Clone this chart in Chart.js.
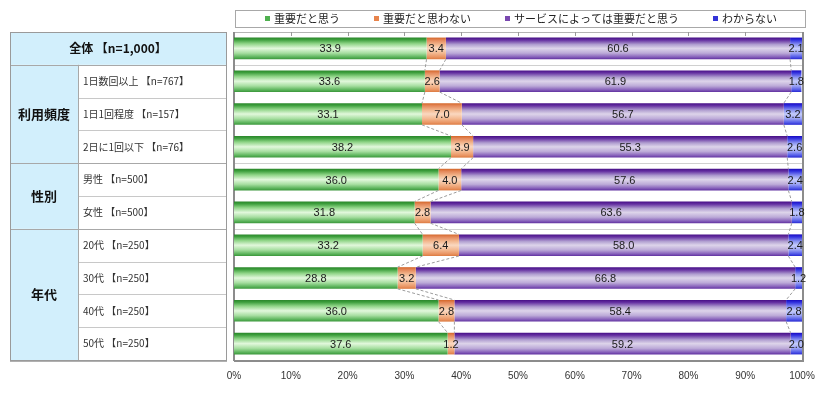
<!DOCTYPE html>
<html>
<head>
<meta charset="utf-8">
<script src="https://cdn.jsdelivr.net/npm/chart.js@4.4.1/dist/chart.umd.min.js"></script>
<style>
  html, body { margin: 0; padding: 0; background: #fff; }
  #wrap { width: 826px; height: 397px; }
</style>
</head>
<body>
<div id="wrap"><canvas id="chart" width="826" height="397"></canvas></div>
<script>
// rows of the table (left side)
const rowLabels = ['全体 【n=1,000】', '1日数回以上 【n=767】', '1日1回程度 【n=157】', '2日に1回以下 【n=76】',
  '男性 【n=500】', '女性 【n=500】', '20代 【n=250】', '30代 【n=250】', '40代 【n=250】', '50代 【n=250】']
// group name, first row, last row
const groups = [['利用頻度', 1, 3], ['性別', 4, 5], ['年代', 6, 9]]

const seriesNames = ['重要だと思う', '重要だと思わない', 'サービスによっては重要だと思う', 'わからない']
const important = [33.9, 33.6, 33.1, 38.2, 36.0, 31.8, 33.2, 28.8, 36.0, 37.6]
const notImportant = [3.4, 2.6, 7.0, 3.9, 4.0, 2.8, 6.4, 3.2, 2.8, 1.2]
const depends = [60.6, 61.9, 56.7, 55.3, 57.6, 63.6, 58.0, 66.8, 58.4, 59.2]
const unknown = [2.1, 1.8, 3.2, 2.6, 2.4, 1.8, 2.4, 1.2, 2.8, 2.0]

const barPct = 0.66
const jpFont = '"Noto Sans CJK JP", "DejaVu Sans", sans-serif'
const numFont = '"Liberation Sans", Arial, sans-serif'

const greenStops = [[0, '#2a862a'], [0.1, '#3c9e3c'], [0.28, '#8ed486'], [0.5, '#e2f8dc'], [0.72, '#a6dea0'], [0.9, '#5cb45c'], [1, '#3a963a']]
const orangeStops = [[0, '#d46628'], [0.12, '#e4885a'], [0.32, '#f3b890'], [0.5, '#fad8c0'], [0.72, '#f3b890'], [0.9, '#e99462'], [1, '#dc7a40']]
const purpleStops = [[0, '#460e86'], [0.12, '#6632a2'], [0.32, '#b09ed0'], [0.5, '#ddd4ea'], [0.72, '#bcaad8'], [0.9, '#8660ba'], [1, '#6030a0']]
const blueStops = [[0, '#1808c0'], [0.12, '#3434e0'], [0.32, '#8a94f2'], [0.5, '#c4ccfa'], [0.72, '#9aa2f4'], [0.9, '#5058e8'], [1, '#2828d0']]
const markerColors = ['#4fb04f', '#e8844c', '#7a48b0', '#3434d8']

function barFill (stops) {
  return function (ctx) {
    const chart = ctx.chart
    const area = chart.chartArea
    if (!area || !chart.scales.y) return stops[3][1]
    const y = chart.scales.y.getPixelForValue(ctx.dataIndex)
    const h = area.height / rowLabels.length * barPct
    const g = chart.ctx.createLinearGradient(0, y - h / 2, 0, y + h / 2)
    for (const s of stops) g.addColorStop(s[0], s[1])
    return g
  }
}

// table, frame, legend
const tablePlugin = {
  id: 'table',
  beforeDatasetsDraw (chart) {
    const c = chart.ctx
    const a = chart.chartArea
    const yScale = chart.scales.y
    const xScale = chart.scales.x
    const rowH = a.height / rowLabels.length
    const top = i => yScale.getPixelForValue(i) - rowH / 2
    const bottom = i => yScale.getPixelForValue(i) + rowH / 2
    const tl = 10, tm = 78, tr = 226
    const blue = '#d2effc'
    c.save()
    // header row
    c.fillStyle = blue
    c.fillRect(tl, top(0), tr - tl, rowH)
    for (const g of groups) c.fillRect(tl, top(g[1]), tm - tl, bottom(g[2]) - top(g[1]))
    // inner row lines
    c.strokeStyle = '#c8c8c8'
    c.lineWidth = 1
    for (let i = 1; i < rowLabels.length; i++) {
      c.beginPath()
      c.moveTo(tm, Math.round(top(i)) + 0.5)
      c.lineTo(tr, Math.round(top(i)) + 0.5)
      c.stroke()
    }
    // group lines, also across the plot
    const groupLines = [top(1)].concat(groups.slice(1).map(g => top(g[1])))
    for (const y of groupLines) {
      c.strokeStyle = '#a8a8a8'
      c.beginPath()
      c.moveTo(tl, Math.round(y) + 0.5)
      c.lineTo(tr, Math.round(y) + 0.5)
      c.stroke()
      c.strokeStyle = '#d0d0d0'
      c.beginPath()
      c.moveTo(a.left, Math.round(y) + 0.5)
      c.lineTo(a.right, Math.round(y) + 0.5)
      c.stroke()
    }
    c.strokeStyle = '#a8a8a8'
    c.beginPath()
    c.moveTo(tm + 0.5, top(1))
    c.lineTo(tm + 0.5, bottom(rowLabels.length - 1))
    c.stroke()
    // outer table border
    c.strokeStyle = '#9a9a9a'
    c.strokeRect(tl + 0.5, Math.round(top(0)) + 0.5, tr - tl, Math.round(bottom(rowLabels.length - 1) - top(0)))
    c.strokeStyle = '#b0b0b0'
    c.beginPath()
    c.moveTo(tl, Math.round(bottom(rowLabels.length - 1)) + 1.5)
    c.lineTo(tr + 1, Math.round(bottom(rowLabels.length - 1)) + 1.5)
    c.stroke()

    // texts
    c.fillStyle = '#111'
    c.textBaseline = 'middle'
    c.textAlign = 'center'
    c.font = 'bold 12px ' + jpFont
    c.fillText(rowLabels[0], (tl + tr) / 2, yScale.getPixelForValue(0))
    c.font = 'bold 13px ' + jpFont
    for (const g of groups) c.fillText(g[0], (tl + tm) / 2, (top(g[1]) + bottom(g[2])) / 2)
    c.textAlign = 'left'
    c.font = '10px ' + jpFont
    c.fillStyle = '#333'
    for (let i = 1; i < rowLabels.length; i++) c.fillText(rowLabels[i], tm + 5, yScale.getPixelForValue(i))

    // plot frame
    c.strokeStyle = '#b4b4b4'
    c.lineWidth = 1
    c.strokeRect(a.left + 0.5, a.top + 0.5, a.width, a.height)
    c.strokeStyle = '#8c8c8c'
    c.lineWidth = 2
    c.beginPath()
    c.moveTo(a.left, a.top)
    c.lineTo(a.left, a.bottom + 1)
    c.moveTo(a.left, a.bottom + 1)
    c.lineTo(a.right + 1, a.bottom + 1)
    c.lineTo(a.right + 1, a.top)
    c.stroke()
    // small ticks at the top
    c.lineWidth = 1
    c.strokeStyle = '#999'
    for (let v = 10; v < 100; v += 10) {
      const x = Math.round(xScale.getPixelForValue(v)) + 0.5
      c.beginPath()
      c.moveTo(x, a.top)
      c.lineTo(x, a.top + 4)
      c.stroke()
    }

    // legend box
    c.strokeStyle = '#a8a8a8'
    c.lineWidth = 1
    c.strokeRect(a.left + 1.5, 10.5, a.width + 2, 17)
    c.font = '11px ' + jpFont
    let lx = 265
    seriesNames.forEach((name, i) => {
      c.fillStyle = markerColors[i]
      c.fillRect(lx, 16, 5, 5)
      c.fillStyle = '#222'
      c.fillText(name, lx + 9, 19)
      lx += 9 + c.measureText(name).width + 34
    })
    c.restore()
  },
  afterDatasetsDraw (chart) {
    const c = chart.ctx
    const metas = chart.data.datasets.map((d, i) => chart.getDatasetMeta(i))
    c.save()
    // dashed connectors between neighbouring bars
    c.strokeStyle = '#9c9c9c'
    c.lineWidth = 1
    c.setLineDash([3, 2])
    for (let k = 0; k < 3; k++) {
      const els = metas[k].data
      for (let i = 0; i < els.length - 1; i++) {
        const e1 = els[i], e2 = els[i + 1]
        c.beginPath()
        c.moveTo(e1.x, e1.y + e1.height / 2)
        c.lineTo(e2.x, e2.y - e2.height / 2)
        c.stroke()
      }
    }
    c.setLineDash([])
    // value labels
    c.font = '11px ' + numFont
    c.fillStyle = '#1a1a1a'
    c.textAlign = 'center'
    c.textBaseline = 'middle'
    metas.forEach((meta, di) => {
      meta.data.forEach((el, i) => {
        const v = chart.data.datasets[di].data[i]
        c.fillText(v.toFixed(1), (el.x + el.base) / 2, el.y + 1)
      })
    })
    c.restore()
  }
}

const chart = new Chart(document.getElementById('chart'), {
  type: 'bar',
  data: {
    labels: rowLabels,
    datasets: [
      { label: seriesNames[0], data: important, backgroundColor: barFill(greenStops) },
      { label: seriesNames[1], data: notImportant, backgroundColor: barFill(orangeStops) },
      { label: seriesNames[2], data: depends, backgroundColor: barFill(purpleStops) },
      { label: seriesNames[3], data: unknown, backgroundColor: barFill(blueStops) }
    ]
  },
  options: {
    indexAxis: 'y',
    responsive: false,
    animation: false,
    devicePixelRatio: 1,
    layout: { padding: { left: 234, right: 24, top: 32, bottom: 5 } },
    datasets: { bar: { categoryPercentage: 1, barPercentage: barPct, borderWidth: 0 } },
    plugins: { legend: { display: false }, tooltip: { enabled: false } },
    scales: {
      x: {
        stacked: true,
        min: 0,
        max: 100,
        grid: { display: false, drawTicks: false },
        border: { display: false },
        ticks: { stepSize: 10, padding: 10, color: '#333', font: { size: 10, family: numFont }, callback: v => v + '%' }
      },
      y: { stacked: true, display: false }
    }
  },
  plugins: [tablePlugin]
})
</script>
</body>
</html>
